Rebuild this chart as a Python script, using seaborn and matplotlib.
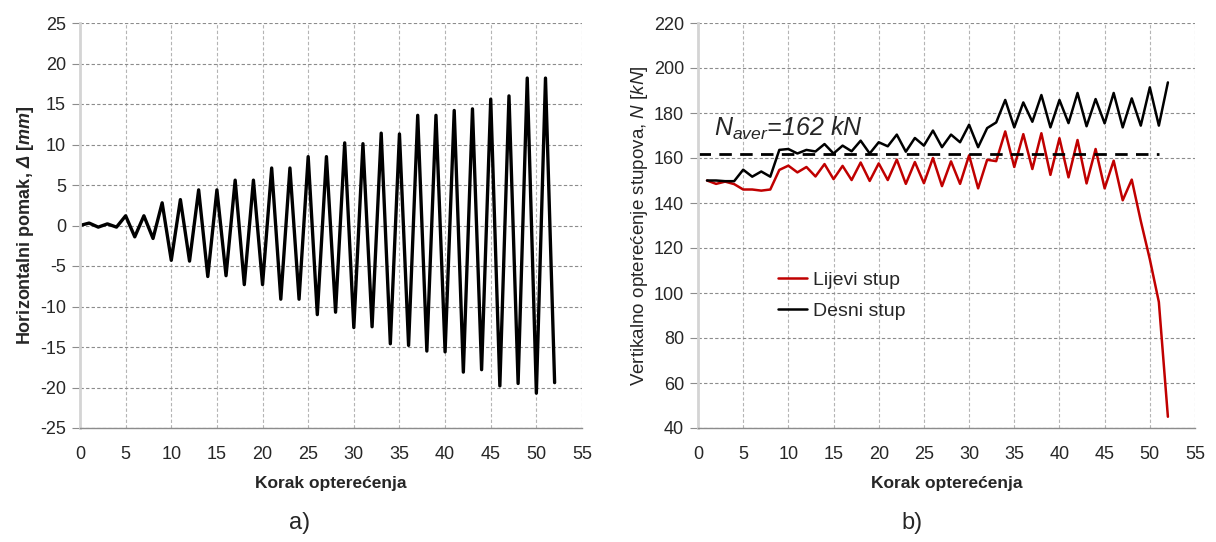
import numpy as np
import pandas as pd
import matplotlib
matplotlib.use("Agg")
import matplotlib.pyplot as plt
import seaborn as sns
from matplotlib import font_manager as fm

# ---------------- data ----------------
step_a = list(range(0, 53))
disp_a = [0, 0.3, -0.2, 0.2, -0.2, 1.2, -1.4, 1.2, -1.6, 2.8,
          -4.3, 3.2, -4.4, 4.4, -6.3, 4.4, -6.2, 5.6, -7.3, 5.6,
          -7.3, 7.1, -9.1, 7.1, -9.1, 8.5, -11.0, 8.5, -10.7, 10.2,
          -12.6, 10.1, -12.5, 11.4, -14.6, 11.3, -14.8, 13.6, -15.5, 13.6,
          -15.6, 14.2, -18.1, 14.4, -17.8, 15.6, -19.8, 16.0, -19.5, 18.2,
          -20.7, 18.2, -19.4]

step_b = list(range(1, 53))
lijevi = [150, 148.5, 149.5, 148.4, 146, 146, 145.5, 146, 154.7, 156.6,
          153.6, 156, 151.8, 157.3, 150.6, 156.5, 150.2, 158, 149.8, 157.6,
          150.2, 159.3, 148.5, 158.2, 148.8, 160, 147.5, 158.5, 148.5, 161.2,
          146.5, 159.2, 158.6, 171.8, 156, 170.6, 155.1, 171, 152.5, 168.8,
          151.4, 168, 148.7, 164, 146.5, 158.8, 141.2, 150.4, 132, 115,
          96, 45]
desni = [150, 150, 149.7, 149.7, 154.8, 151.7, 154, 151.7, 163.6, 164,
         162, 163.6, 162.9, 166.2, 162, 165.5, 163, 167.7, 162, 167,
         165.2, 170.4, 162.8, 168.9, 165.5, 172.2, 164.8, 170.4, 167, 174.8,
         164.8, 173.3, 175.8, 185.8, 173.6, 184.7, 176.1, 188, 173.6, 185.8,
         175.5, 188.9, 174.1, 186.2, 175.4, 188.9, 173.6, 186.5, 174.4, 191.4,
         174.4, 193.6]
n_aver = 162
n_aver_span = [0, 51]

series_names = ["Lijevi stup", "Desni stup"]
xticks = list(range(0, 56, 5))
yticks_a = list(range(-25, 26, 5))
yticks_b = list(range(40, 221, 20))

# ---------------- style ----------------
sns.set_style("white")
names = {f.name for f in fm.fontManager.ttflist}
narrow = "Liberation Sans Narrow" if "Liberation Sans Narrow" in names else "Liberation Sans"
plt.rcParams["font.family"] = [narrow, "DejaVu Sans"]
plt.rcParams["axes.unicode_minus"] = False
plt.rcParams["mathtext.fontset"] = "custom"
plt.rcParams["mathtext.it"] = "Liberation Sans:italic"
plt.rcParams["mathtext.bf"] = narrow + ":bold:italic"
plt.rcParams["mathtext.sf"] = narrow + ":italic"
plt.rcParams["mathtext.rm"] = "Liberation Sans"

fig = plt.figure(figsize=(12.16, 5.42), dpi=100)
axA = fig.add_axes([80 / 1216, 1 - 428 / 542, 502 / 1216, 405 / 542])
axB = fig.add_axes([698 / 1216, 1 - 428 / 542, 497 / 1216, 405 / 542])

hgrid = "#8c8c8c"
vgrid = "#b4b4b4"


def style_axes(ax, ylim, yticks):
    ax.set_xlim(0, 55)
    ax.set_ylim(*ylim)
    ax.set_xticks(xticks)
    ax.set_yticks(yticks)
    ax.yaxis.grid(True, color=hgrid, linestyle=(0, (3, 2)), linewidth=0.8)
    ax.xaxis.grid(True, color=vgrid, linestyle=(0, (3, 2)), linewidth=0.8)
    ax.set_axisbelow(True)
    for s in ["top", "right"]:
        ax.spines[s].set_visible(False)
    ax.spines["left"].set_color("#d4d4d4")
    ax.spines["left"].set_linewidth(2.0)
    ax.spines["bottom"].set_color("#8c8c8c")
    ax.spines["bottom"].set_linewidth(1.0)
    ax.tick_params(axis="y", length=6, width=0.8, color="#8c8c8c",
                   labelsize=13, pad=4, direction="out", left=True)
    ax.tick_params(axis="x", length=0, labelsize=13, pad=13)
    ax.set_xlabel("Korak opterećenja", fontsize=12.5, fontweight="bold",
                  family=["Liberation Sans", "DejaVu Sans"], labelpad=9)


# ---------------- panel a ----------------
dfa = pd.DataFrame({"Korak": step_a, "Pomak": disp_a})
sns.lineplot(data=dfa, x="Korak", y="Pomak", ax=axA, color="black",
             linewidth=2.4, sort=False)
style_axes(axA, (-25, 25), yticks_a)
axA.set_ylabel(r"Horizontalni pomak, $\mathbf{\Delta}$ [$\mathbf{mm}$]",
               fontsize=13, fontweight="bold", labelpad=3)

# ---------------- panel b ----------------
dfb = pd.DataFrame({
    "Korak": step_b * 2,
    "N": lijevi + desni,
    "Stup": [series_names[0]] * len(step_b) + [series_names[1]] * len(step_b),
})
sns.lineplot(data=dfb, x="Korak", y="N", hue="Stup", ax=axB,
             palette={series_names[0]: "#c00000", series_names[1]: "black"},
             linewidth=1.8, sort=False)
axB.plot(n_aver_span, [n_aver, n_aver], color="black", linewidth=2.0,
         linestyle=(0, (4.5, 3)))
style_axes(axB, (40, 220), yticks_b)
axB.set_ylabel("Vertikalno opterećenje stupova, " + r"$\mathsf{N}$ [$\mathsf{kN}$]",
               fontsize=13.5, labelpad=3)
axB.text(1.8, 173, r"$N_{aver}$=162 kN", fontsize=18, style="italic",
         family=["Liberation Sans", "DejaVu Sans"], ha="left", va="center")
leg = axB.legend(loc="upper left", bbox_to_anchor=(0.125, 0.43), frameon=False,
                 fontsize=14, handlelength=1.5, handletextpad=0.3,
                 labelspacing=0.7, title=None)
for t in leg.get_texts():
    t.set_family(["Liberation Sans", "DejaVu Sans"])

fig.text(300 / 1216, 1 - 523 / 542, "a)", fontsize=17, ha="center", va="center",
         family=["Liberation Sans", "DejaVu Sans"])
fig.text(912 / 1216, 1 - 523 / 542, "b)", fontsize=17, ha="center", va="center",
         family=["Liberation Sans", "DejaVu Sans"])

fig.savefig("out.png", dpi=100)
